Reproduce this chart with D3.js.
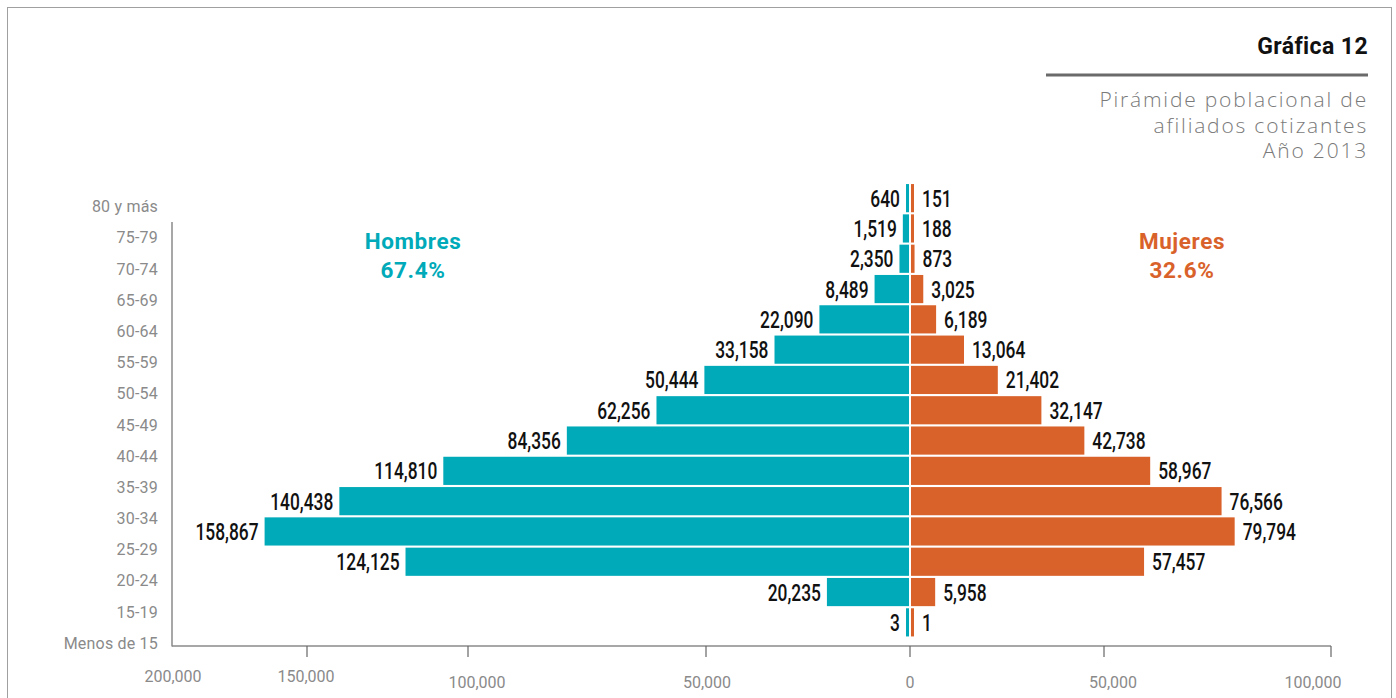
<!DOCTYPE html>
<html>
<head>
<meta charset="utf-8">
<script src="https://cdn.jsdelivr.net/npm/d3@7"></script>
<style>
  body { margin: 0; background: #fff; }
  svg { display: block; }
  .val { font-family: Roboto, "Noto Sans", sans-serif; font-weight: 500; font-size: 23.5px; fill: #111; }
  .cat, .tick-label { font-family: Roboto, "Noto Sans", sans-serif; fill: #8a8a8a; }
</style>
</head>
<body>
<svg id="chart" width="1396" height="698"></svg>
<script>
// age groups, top to bottom
const ageGroups = ["80 y más", "75-79", "70-74", "65-69", "60-64", "55-59", "50-54", "45-49",
    "40-44", "35-39", "30-34", "25-29", "20-24", "15-19", "Menos de 15"];

const hombres = [640, 1519, 2350, 8489, 22090, 33158, 50444, 62256, 84356, 114810, 140438, 158867, 124125, 20235, 3];
const mujeres = [151, 188, 873, 3025, 6189, 13064, 21402, 32147, 42738, 58967, 76566, 79794, 57457, 5958, 1];

const legend = [
    { name: "Hombres", share: "67.4%", color: "#00aab8" },
    { name: "Mujeres", share: "32.6%", color: "#d9622b" }
];

// axis ticks as printed (the printed axis is not evenly spaced)
const axisTicks = [-200000, -150000, -100000, -50000, 0, 50000, 100000];

const svg = d3.select("#chart");

// frame
svg.append("rect")
    .attr("x", 7.5).attr("y", 7.5)
    .attr("width", 1384).attr("height", 700)
    .attr("fill", "none").attr("stroke", "#a0a0a0").attr("stroke-width", 1);

// header
svg.append("text")
    .attr("x", 1368).attr("y", 54)
    .attr("text-anchor", "end")
    .style("font-family", "Roboto, sans-serif")
    .style("font-weight", 700)
    .style("font-size", "23px")
    .style("letter-spacing", "0.4px")
    .attr("fill", "#111")
    .text("Gráfica 12");

svg.append("line")
    .attr("x1", 1046).attr("x2", 1368)
    .attr("y1", 75).attr("y2", 75)
    .attr("stroke", "#6a6a6a").attr("stroke-width", 3);

["Pirámide poblacional de", "afiliados cotizantes", "Año 2013"].forEach((t, i) => {
    svg.append("text")
        .attr("x", 1368).attr("y", 107 + i * 25.5)
        .attr("text-anchor", "end")
        .style("font-family", "'Open Sans', Roboto, sans-serif")
        .style("font-weight", 300)
        .style("font-size", "21px")
        .style("letter-spacing", "1.8px")
        .attr("fill", "#7a7a7a")
        .text(t);
});

// scales
const zeroX = 910;
const xBar = d3.scaleLinear().domain([0, 160000]).range([0, 649]);
const yBar = d3.scaleBand().domain(ageGroups).range([183, 637.5]).paddingInner(0.07).paddingOuter(0.035);
const yCat = d3.scalePoint().domain(ageGroups).range([206.5, 643]);
const xAxisScale = d3.scaleLinear().domain(axisTicks).range([172, 307, 468, 706, 910, 1104, 1331]);
const xLabelScale = d3.scaleLinear().domain(axisTicks).range([173, 306, 477, 707, 910, 1113, 1313]);

const rows = ageGroups.map((g, i) => ({ group: g, h: hombres[i], m: mujeres[i] }));
const barW = v => Math.max(xBar(v), 3);

// axes
const axisG = svg.append("g").attr("stroke", "#8a8a8a").attr("stroke-width", 1.5);
axisG.append("line").attr("x1", 172).attr("x2", 172).attr("y1", 222).attr("y2", 646.5);
axisG.append("line").attr("x1", 172).attr("x2", xAxisScale(100000)).attr("y1", 646).attr("y2", 646);
axisG.selectAll("line.tick")
    .data(axisTicks.filter(d => d > -200000))
    .join("line")
    .attr("class", "tick")
    .attr("x1", d => xAxisScale(d)).attr("x2", d => xAxisScale(d))
    .attr("y1", 646).attr("y2", 657)
    .attr("stroke-width", 1.2)
    .attr("stroke", "#666");

svg.selectAll("text.tick-label")
    .data(axisTicks)
    .join("text")
    .attr("class", "tick-label")
    .attr("x", d => xLabelScale(d))
    .attr("y", d => d <= -150000 ? 682 : 688)
    .attr("text-anchor", "middle")
    .style("font-size", "16px")
    .text(d => d3.format(",")(Math.abs(d)));

svg.selectAll("text.cat")
    .data(ageGroups)
    .join("text")
    .attr("class", "cat")
    .attr("x", 158)
    .attr("y", d => yCat(d))
    .attr("dy", "0.36em")
    .attr("text-anchor", "end")
    .style("font-size", "16px")
    .style("letter-spacing", "0.2px")
    .text(d => d);

// bars
svg.selectAll("rect.hombres")
    .data(rows)
    .join("rect")
    .attr("class", "hombres")
    .attr("x", d => zeroX - 1 - barW(d.h))
    .attr("y", d => yBar(d.group))
    .attr("width", d => barW(d.h))
    .attr("height", yBar.bandwidth())
    .attr("fill", legend[0].color);

svg.selectAll("rect.mujeres")
    .data(rows)
    .join("rect")
    .attr("class", "mujeres")
    .attr("x", zeroX + 1)
    .attr("y", d => yBar(d.group))
    .attr("width", d => barW(d.m))
    .attr("height", yBar.bandwidth())
    .attr("fill", legend[1].color);

// value labels, squeezed horizontally to look like a condensed face
const fmt = d3.format(",");
const squeeze = 0.74;
svg.selectAll("text.val-h")
    .data(rows)
    .join("text")
    .attr("class", "val val-h")
    .attr("transform", d => `translate(${zeroX - 1 - barW(d.h) - 6},${yBar(d.group) + yBar.bandwidth() / 2}) scale(${squeeze},1)`)
    .attr("dy", "0.36em")
    .attr("text-anchor", "end")
    .text(d => fmt(d.h));

svg.selectAll("text.val-m")
    .data(rows)
    .join("text")
    .attr("class", "val val-m")
    .attr("transform", d => `translate(${zeroX + 1 + barW(d.m) + 8},${yBar(d.group) + yBar.bandwidth() / 2}) scale(${squeeze},1)`)
    .attr("dy", "0.36em")
    .attr("text-anchor", "start")
    .text(d => fmt(d.m));

// legend labels
const legendX = [413, 1182];
legend.forEach((l, i) => {
    [l.name, l.share].forEach((t, j) => {
        svg.append("text")
            .attr("x", legendX[i]).attr("y", 249 + j * 29)
            .attr("text-anchor", "middle")
            .style("font-family", "Roboto, sans-serif")
            .style("font-weight", 700)
            .style("font-size", "22.5px")
            .style("letter-spacing", "0.6px")
            .attr("fill", l.color)
            .text(t);
    });
});
</script>
</body>
</html>
